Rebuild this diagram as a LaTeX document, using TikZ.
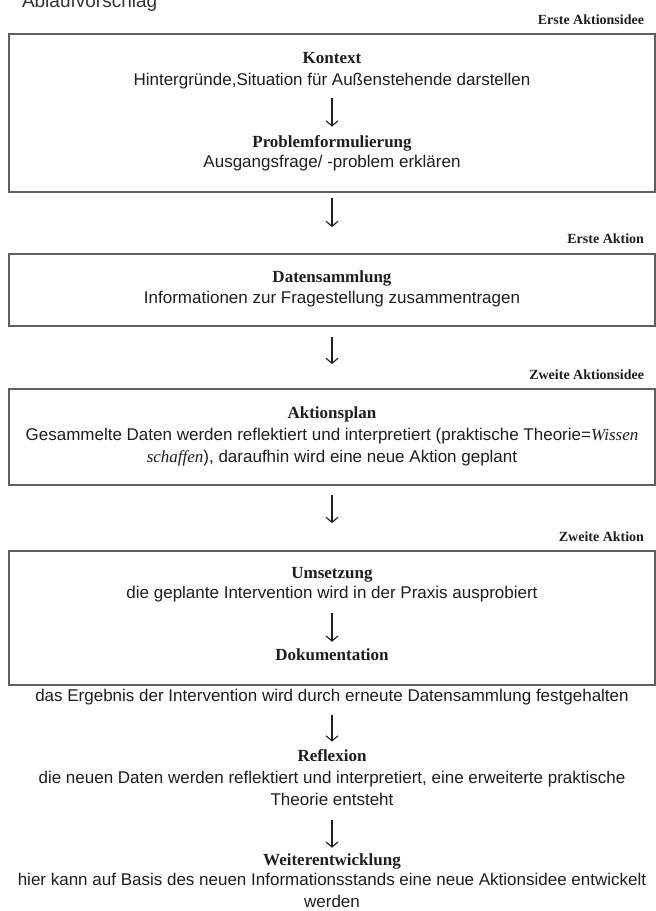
\documentclass[tikz,border=0pt]{standalone}
\usepackage{fontspec}
\setmainfont{Liberation Serif}
\setsansfont{Liberation Sans}
\usetikzlibrary{arrows.meta}
\definecolor{txt}{RGB}{30,30,30}
\definecolor{boxc}{RGB}{95,95,95}
\tikzset{
  every node/.style={inner sep=0pt, outer sep=0pt, text=txt},
  ttl/.style={font=\fontsize{17}{21}\selectfont\bfseries, anchor=base},
  desc/.style={font=\fontsize{17}{22}\selectfont\sffamily, anchor=base, align=center},
  lbl/.style={font=\fontsize{14}{16}\selectfont\bfseries, anchor=base east},
  stage/.style={draw=boxc, line width=1.4pt, minimum width=646pt, anchor=north},
  arr/.style={draw=txt, line width=1.1pt, -{Straight Barb[length=5pt,width=12pt,line width=1.1pt]}},
}
\begin{document}
\begin{tikzpicture}[x=1pt,y=-1pt]
\clip (0,0) rectangle (656,911);
\fill[white] (0,0) rectangle (656,911);

\node[font=\fontsize{19}{22}\selectfont\sffamily, anchor=base west, text=black!80] (ab) at (22,7) {Ablaufvorschlag};

% stage boxes
\node[stage, minimum height=158pt] (b1) at (332,34) {};
\node[stage, minimum height=72pt]  (b2) at (332,254) {};
\node[stage, minimum height=96pt]  (b3) at (332,389) {};
\node[stage, minimum height=134pt] (b4) at (332,551) {};

% labels
\node[lbl] (l1) at (644,24.5) {Erste Aktionsidee};
\node[lbl] (l2) at (644,243.5) {Erste Aktion};
\node[lbl] (l3) at (644,379.5) {Zweite Aktionsidee};
\node[lbl] (l4) at (644,541.5) {Zweite Aktion};

% box 1
\node[ttl]  (k1) at (332,63.5) {Kontext};
\node[desc] (k2) at (332,85.5) {Hintergründe,Situation für Außenstehende darstellen};
\node[ttl]  (p1) at (332,147.5) {Problemformulierung};
\node[desc] (p2) at (332,167.5) {Ausgangsfrage/ -problem erklären};

% box 2
\node[ttl]  (d1) at (332,282.5) {Datensammlung};
\node[desc] (d2) at (332,303.5) {Informationen zur Fragestellung zusammentragen};

% box 3 (base anchor of a two-line node = baseline of its last line)
\node[ttl]  (a1) at (332,418.5) {Aktionsplan};
\node[desc] (a2) at (332,462.5) {Gesammelte Daten werden reflektiert und interpretiert (praktische Theorie=\textrm{\itshape Wissen}\\\textrm{\itshape schaffen}), daraufhin wird eine neue Aktion geplant};

% box 4
\node[ttl]  (u1) at (332,578.5) {Umsetzung};
\node[desc] (u2) at (332,598.5) {die geplante Intervention wird in der Praxis ausprobiert};
\node[ttl]  (o1) at (332,660.5) {Dokumentation};

% below
\node[desc] (o2) at (332,701.5) {das Ergebnis der Intervention wird durch erneute Datensammlung festgehalten};
\node[ttl]  (r1) at (332,761.5) {Reflexion};
\node[desc] (r2) at (332,805.5) {die neuen Daten werden reflektiert und interpretiert, eine erweiterte praktische\\Theorie entsteht};
\node[ttl]  (w1) at (332,865.5) {Weiterentwicklung};
\node[desc] (w2) at (332,907.5) {hier kann auf Basis des neuen Informationsstands eine neue Aktionsidee entwickelt\\werden};

% arrows
\draw[arr, shorten <=9pt, shorten >=9pt] (k2) -- (p1);
\draw[arr, shorten <=6pt, shorten >=27pt] (b1) -- (b2);
\draw[arr, shorten <=11pt, shorten >=25pt] (b2) -- (b3);
\draw[arr, shorten <=10pt, shorten >=28pt] (b3) -- (b4);
\draw[arr, shorten <=11pt, shorten >=7pt] (u2) -- (o1);
\draw[arr, shorten <=10pt, shorten >=8pt] (o2) -- (r1);
\draw[arr, shorten <=14pt, shorten >=6pt] (r2) -- (w1);
\end{tikzpicture}
\end{document}
